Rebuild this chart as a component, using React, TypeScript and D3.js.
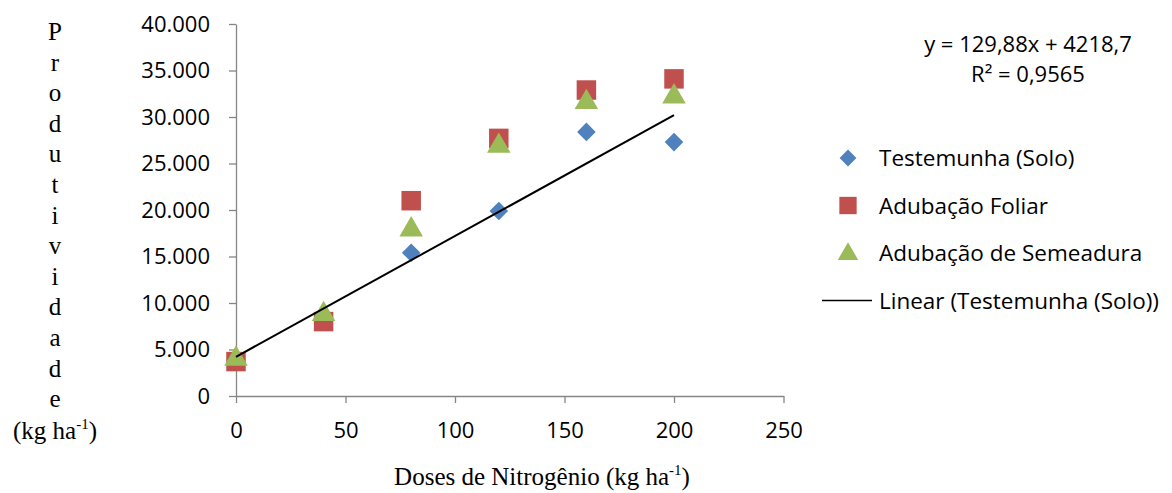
import React, { useEffect, useRef } from 'react'
import * as d3 from 'd3'

// doses de nitrogênio (kg ha-1)
const doses = [0, 40, 80, 120, 160, 200]
const testemunha = [4000, 8300, 15400, 19900, 28400, 27300]
const foliar = [3700, 8000, 21000, 27700, 32900, 34100]
const semeadura = [4200, 9000, 18100, 27100, 31800, 32400]
const yTicks = [0, 5000, 10000, 15000, 20000, 25000, 30000, 35000, 40000]
const xTicks = [0, 50, 100, 150, 200, 250]
const trend = { slope: 129.88, intercept: 4218.7, r2: '0,9565' }
const yLetters = ['P', 'r', 'o', 'd', 'u', 't', 'i', 'v', 'i', 'd', 'a', 'd', 'e']

const legendItems = [
  { name: 'Testemunha (Solo)', color: '#4F81BD', shape: 'diamond' },
  { name: 'Adubação Foliar', color: '#C0504D', shape: 'square' },
  { name: 'Adubação de Semeadura', color: '#9BBB59', shape: 'triangle' },
  { name: 'Linear (Testemunha (Solo))', color: '#000', shape: 'line' },
]

const sans = '"Open Sans", Lato, sans-serif'
const serif = '"Liberation Serif", "Times New Roman", serif'

export default function App() {
  const ref = useRef<SVGSVGElement>(null)

  useEffect(() => {
    const svg = d3.select(ref.current)
    svg.selectAll('*').remove()

    const x = d3.scaleLinear().domain([0, 250]).range([236, 783.5])
    const y = d3.scaleLinear().domain([0, 40000]).range([396, 24])
    const axisColor = '#868686'

    // y axis
    const yAxis = svg.append('g').attr('transform', 'translate(236,0)')
      .call(d3.axisLeft(y).tickValues(yTicks).tickSize(7).tickSizeOuter(0)
        .tickFormat(d => d3.format(',')(d as number).replace(/,/g, '.')))
    yAxis.select('.domain').attr('stroke', axisColor).attr('stroke-width', 1.3)
    yAxis.selectAll('line').attr('stroke', axisColor).attr('stroke-width', 1.3)
    yAxis.selectAll('text').attr('font-family', sans).attr('font-size', 22)
      .attr('fill', '#000').attr('x', -26)

    // x axis
    const xAxis = svg.append('g').attr('transform', 'translate(0,396)')
      .call(d3.axisBottom(x).tickValues(xTicks).tickSize(7).tickSizeOuter(0))
    xAxis.select('.domain').attr('stroke', axisColor).attr('stroke-width', 1.3)
    xAxis.selectAll('line').attr('stroke', axisColor).attr('stroke-width', 1.3)
    xAxis.selectAll('text').attr('font-family', sans).attr('font-size', 22)
      .attr('fill', '#000').attr('y', 34).attr('dy', '0.35em')

    const sym = (shape: string, size: number) => {
      if (shape === 'diamond') return d3.symbol().type(d3.symbolDiamond2).size(size)()
      if (shape === 'square') return d3.symbol().type(d3.symbolSquare).size(size)()
      return d3.symbol().type(d3.symbolTriangle).size(size)()
    }

    const series = [
      { values: testemunha, ...legendItems[0], size: 220 },
      { values: foliar, ...legendItems[1], size: 380 },
      { values: semeadura, ...legendItems[2], size: 240 },
    ]
    series.forEach(s => {
      svg.append('g').selectAll('path').data(doses).enter().append('path')
        .attr('d', sym(s.shape, s.size) as string)
        .attr('transform', (d, i) => `translate(${x(d)},${y(s.values[i]) + (s.shape === 'triangle' ? 2 : 0)})`)
        .attr('fill', s.color)
    })

    // trend line
    const line = d3.line<number>().x(d => x(d)).y(d => y(trend.slope * d + trend.intercept))
    svg.append('path').attr('d', line([0, 200]) as string)
      .attr('stroke', '#000').attr('stroke-width', 2).attr('fill', 'none')

    // equation
    const eq = svg.append('g').attr('font-family', sans).attr('font-size', 22)
      .attr('text-anchor', 'middle').attr('fill', '#000')
    eq.append('text').attr('x', 1028).attr('y', 52)
      .text(`y = ${String(trend.slope).replace('.', ',')}x + ${String(trend.intercept).replace('.', ',')}`)
    eq.append('text').attr('x', 1028).attr('y', 82).text(`R² = ${trend.r2}`)

    // legend
    const lg = svg.append('g')
    legendItems.forEach((it, i) => {
      const ly = 158 + i * 47.5
      if (it.shape === 'line') {
        lg.append('line').attr('x1', 822).attr('x2', 872).attr('y1', ly).attr('y2', ly)
          .attr('stroke', '#000').attr('stroke-width', 1.5)
      } else {
        lg.append('path').attr('d', sym(it.shape, it.shape === 'square' ? 300 : 180) as string)
          .attr('transform', `translate(848,${ly + (it.shape === 'triangle' ? 1 : 0)})`)
          .attr('fill', it.color)
      }
      lg.append('text').attr('x', 879).attr('y', ly).attr('dy', '0.36em')
        .attr('font-family', sans).attr('font-size', 22.5).attr('fill', '#000').text(it.name)
    })

    // y title (vertical letters)
    const yt = svg.append('g').attr('font-family', serif).attr('font-size', 25)
      .attr('text-anchor', 'middle').attr('fill', '#000')
    yLetters.forEach((c, i) => {
      yt.append('text').attr('x', 55).attr('y', 40 + i * 30.6).text(c)
    })
    const unit = yt.append('text').attr('x', 55).attr('y', 439)
    unit.append('tspan').text('(kg ha')
    unit.append('tspan').attr('font-size', 15).attr('dy', -10).text('-1')
    unit.append('tspan').attr('dy', 10).text(')')

    // x title
    const xt = svg.append('text').attr('x', 542).attr('y', 485).attr('font-family', serif)
      .attr('font-size', 25).attr('text-anchor', 'middle').attr('fill', '#000')
    xt.append('tspan').text('Doses de Nitrogênio (kg ha')
    xt.append('tspan').attr('font-size', 15).attr('dy', -10).text('-1')
    xt.append('tspan').attr('dy', 10).text(')')
  }, [])

  return (
    <svg ref={ref} width={1172} height={493}
      style={{ position: 'absolute', left: 0, top: 0, background: '#fff' }} />
  )
}
